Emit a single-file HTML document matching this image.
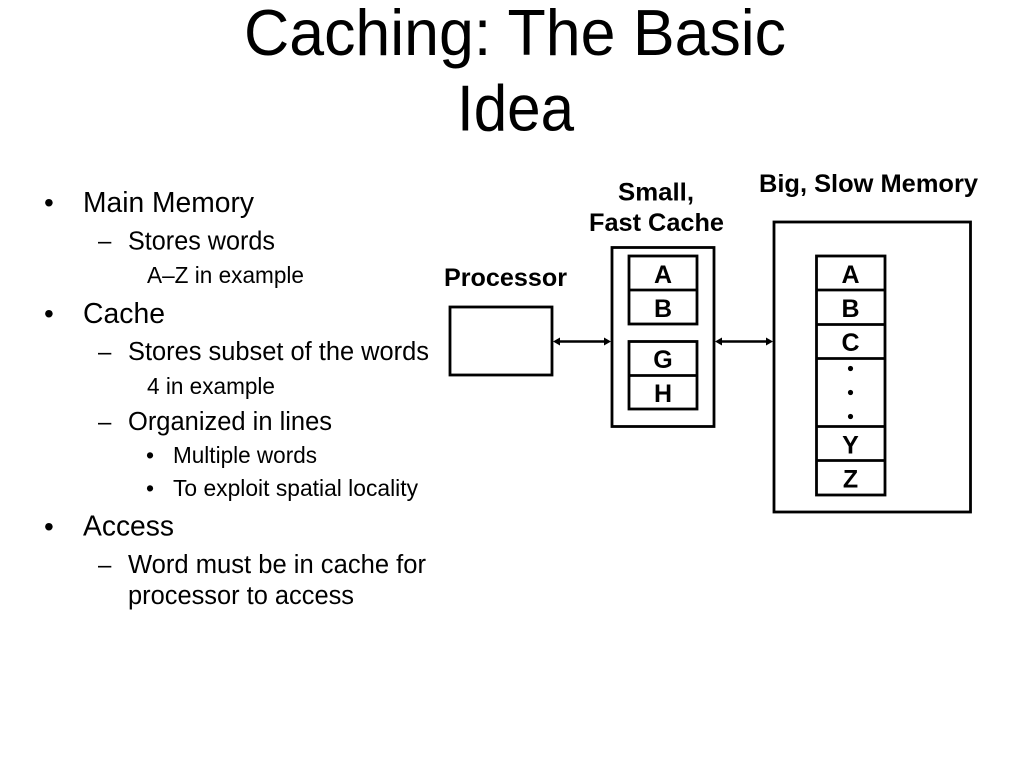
<!DOCTYPE html>
<html>
<head>
<meta charset="utf-8">
<style>
html,body{margin:0;padding:0;background:#fff;}
svg{display:block;}
text{font-family:"Liberation Sans",Arial,sans-serif;fill:#000;}
.t{font-size:65px;}
.l1{font-size:29px;}
.l2{font-size:25.5px;}
.l3{font-size:22.8px;}
.d1{font-size:28px;}
.d3{font-size:23px;}
.d2{font-size:24px;}
.b{font-size:25px;font-weight:bold;}
.c{font-size:25px;font-weight:bold;text-anchor:middle;}
rect,line.s{fill:none;stroke:#000;stroke-width:2.8;}
</style>
</head>
<body>
<svg width="1024" height="768" viewBox="0 0 1024 768" xmlns="http://www.w3.org/2000/svg">
<rect x="0" y="0" width="1024" height="768" style="fill:#fff;stroke:none"/>
<text class="t" x="244" y="55" textLength="542" lengthAdjust="spacingAndGlyphs">Caching: The Basic</text>
<text class="t" x="457" y="130.500" textLength="117" lengthAdjust="spacingAndGlyphs">Idea</text>

<text class="d1" x="44" y="212">•</text>
<text class="l1" x="83" y="212" textLength="171" lengthAdjust="spacingAndGlyphs">Main Memory</text>
<text class="d2" x="98" y="249">–</text>
<text class="l2" x="128" y="249.500" textLength="147" lengthAdjust="spacingAndGlyphs">Stores words</text>
<text class="l3" x="147" y="283" textLength="157" lengthAdjust="spacingAndGlyphs">A–Z in example</text>
<text class="d1" x="44" y="323">•</text>
<text class="l1" x="83" y="323" textLength="82" lengthAdjust="spacingAndGlyphs">Cache</text>
<text class="d2" x="98" y="360">–</text>
<text class="l2" x="128" y="360" textLength="301" lengthAdjust="spacingAndGlyphs">Stores subset of the words</text>
<text class="l3" x="147" y="394" textLength="128" lengthAdjust="spacingAndGlyphs">4 in example</text>
<text class="d2" x="98" y="430">–</text>
<text class="l2" x="128" y="430" textLength="204" lengthAdjust="spacingAndGlyphs">Organized in lines</text>
<text class="d3" x="146" y="463">•</text>
<text class="l3" x="173" y="463" textLength="144" lengthAdjust="spacingAndGlyphs">Multiple words</text>
<text class="d3" x="146" y="496">•</text>
<text class="l3" x="173" y="496" textLength="245" lengthAdjust="spacingAndGlyphs">To exploit spatial locality</text>
<text class="d1" x="44" y="536">•</text>
<text class="l1" x="83" y="535.500" textLength="91" lengthAdjust="spacingAndGlyphs">Access</text>
<text class="d2" x="98" y="573">–</text>
<text class="l2" x="128" y="573" textLength="298" lengthAdjust="spacingAndGlyphs">Word must be in cache for</text>
<text class="l2" x="128" y="604" textLength="226" lengthAdjust="spacingAndGlyphs">processor to access</text>

<text class="b" x="618" y="200.500" textLength="76" lengthAdjust="spacingAndGlyphs">Small,</text>
<text class="b" x="589" y="231" textLength="135" lengthAdjust="spacingAndGlyphs">Fast Cache</text>
<text class="b" x="444" y="286" textLength="123" lengthAdjust="spacingAndGlyphs">Processor</text>
<text class="b" x="759" y="192" textLength="219" lengthAdjust="spacingAndGlyphs">Big, Slow Memory</text>

<rect x="450" y="307" width="102" height="68"/>
<rect x="612" y="247.5" width="102" height="179"/>
<rect x="629" y="256" width="68" height="68"/>
<line class="s" x1="629" y1="290" x2="697" y2="290"/>
<rect x="629" y="341.500" width="68" height="67.500"/>
<line class="s" x1="629" y1="375.500" x2="697" y2="375.500"/>
<rect x="774" y="222" width="196.500" height="290"/>
<rect x="816.500" y="256" width="68.500" height="239"/>
<line class="s" x1="816.500" y1="290" x2="885" y2="290"/>
<line class="s" x1="816.500" y1="324.500" x2="885" y2="324.500"/>
<line class="s" x1="816.500" y1="358.500" x2="885" y2="358.500"/>
<line class="s" x1="816.500" y1="426.500" x2="885" y2="426.500"/>
<line class="s" x1="816.500" y1="460.500" x2="885" y2="460.500"/>

<text class="c" x="663" y="283">A</text>
<text class="c" x="663" y="317">B</text>
<text class="c" x="663" y="368">G</text>
<text class="c" x="663" y="402">H</text>
<text class="c" x="850.500" y="283">A</text>
<text class="c" x="850.500" y="317">B</text>
<text class="c" x="850.500" y="351">C</text>
<circle cx="850.500" cy="368.500" r="2.600"/>
<circle cx="850.500" cy="392.500" r="2.600"/>
<circle cx="850.500" cy="416.500" r="2.600"/>
<text class="c" x="850.500" y="453.500">Y</text>
<text class="c" x="850.500" y="487.500">Z</text>

<line x1="556" y1="341.500" x2="608" y2="341.500" stroke="#000" stroke-width="2.400"/>
<polygon points="553,341.500 560,337.500 560,345.500"/>
<polygon points="611,341.500 604,337.500 604,345.500"/>
<line x1="718" y1="341.500" x2="770" y2="341.500" stroke="#000" stroke-width="2.400"/>
<polygon points="715,341.500 722,337.500 722,345.500"/>
<polygon points="773,341.500 766,337.500 766,345.500"/>
</svg>
</body>
</html>
